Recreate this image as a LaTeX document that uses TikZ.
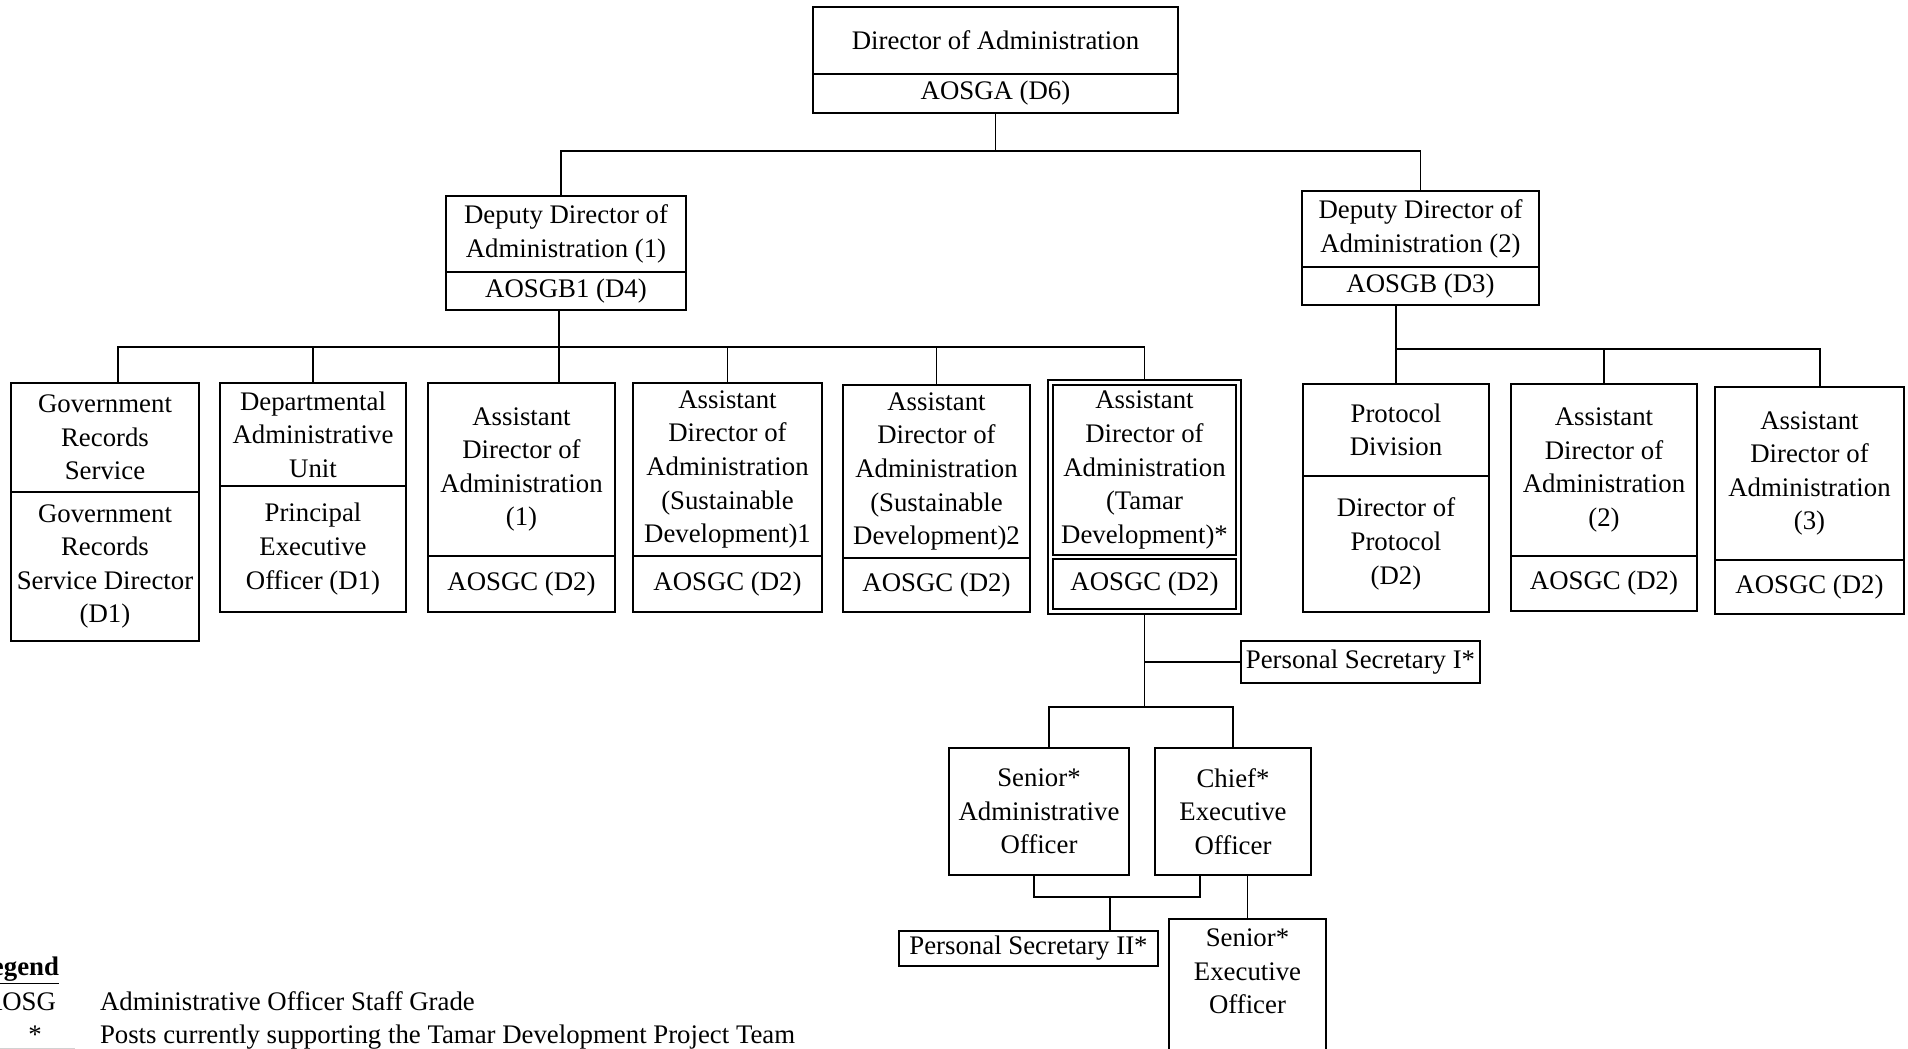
\documentclass[tikz,border=0pt]{standalone}
\usepackage{fontspec}
\setmainfont{Liberation Serif}
\usetikzlibrary{positioning,fit}

\tikzset{
	box/.style={draw, line width=0.7pt, inner sep=1pt, outer sep=0pt, align=center, font=\fontsize{13.4}{16.8}\selectfont},
	link/.style={line width=0.7pt},
	plain/.style={inner sep=0pt, outer sep=0pt, font=\fontsize{13.4}{16.8}\selectfont}
}

\begin{document}
\begin{tikzpicture}[x=0.5pt, y=-0.5pt]
		\useasboundingbox (0,0) rectangle (1908,1049);
		\clip (0,0) rectangle (1908,1049);

		\node[box, minimum width=182.5pt, minimum height=33.5pt] (dir) at (995.5,40.5) {Director of Administration};
		\node[box, minimum width=182.5pt, minimum height=19.5pt, below=0pt of dir] (dirg) {AOSGA (D6)};

		\node[box, minimum width=120pt, minimum height=38pt] (dd1) at (566,234) {Deputy Director of\\Administration (1)};
		\node[box, minimum width=120pt, minimum height=19pt, below=0pt of dd1] (dd1g) {AOSGB1 (D4)};
		\node[box, minimum width=118.5pt, minimum height=38pt] (dd2) at (1420.5,229) {Deputy Director of\\Administration (2)};
		\node[box, minimum width=118.5pt, minimum height=19pt, below=0pt of dd2] (dd2g) {AOSGB (D3)};

		\node[box, minimum width=94pt, minimum height=54.5pt] (grs) at (105,437.5) {Government\\Records\\Service};
		\node[box, minimum width=94pt, minimum height=74.5pt, below=0pt of grs] (grsg) {Government\\Records\\Service Director\\(D1)};
		\node[box, minimum width=93pt, minimum height=51.5pt] (dau) at (313,434.5) {Departmental\\Administrative\\Unit};
		\node[box, minimum width=93pt, minimum height=63pt, below=0pt of dau] (daug) {Principal\\Executive\\Officer (D1)};
		\node[box, minimum width=93.5pt, minimum height=86.5pt] (ada1) at (521.5,469.5) {Assistant\\Director of\\Administration\\(1)};
		\node[box, minimum width=93.5pt, minimum height=28pt, below=0pt of ada1] (ada1g) {AOSGC (D2)};
		\node[box, minimum width=94.5pt, minimum height=86.5pt] (ads1) at (727.5,469.5) {Assistant\\Director of\\Administration\\(Sustainable\\Development)1};
		\node[box, minimum width=94.5pt, minimum height=28pt, below=0pt of ads1] (ads1g) {AOSGC (D2)};
		\node[box, minimum width=93.5pt, minimum height=86.5pt] (ads2) at (936.5,471.5) {Assistant\\Director of\\Administration\\(Sustainable\\Development)2};
		\node[box, minimum width=93.5pt, minimum height=27pt, below=0pt of ads2] (ads2g) {AOSGC (D2)};
		\node[box, minimum width=91.5pt, minimum height=85pt] (adt) at (1144.5,470) {Assistant\\Director of\\Administration\\(Tamar\\Development)*};
		\node[box, minimum width=91.5pt, minimum height=25pt, below=2pt of adt] (adtg) {AOSGC (D2)};
		\node[draw, line width=0.7pt, inner sep=2.5pt, outer sep=0pt, fit=(adt)(adtg)] (adtbox) {};

		\node[box, minimum width=93pt, minimum height=46pt] (prot) at (1396,430) {Protocol\\Division};
		\node[box, minimum width=93pt, minimum height=68pt, below=0pt of prot] (protg) {Director of\\Protocol\\(D2)};
		\node[box, minimum width=93pt, minimum height=86pt] (ada2) at (1604,470) {Assistant\\Director of\\Administration\\(2)};
		\node[box, minimum width=93pt, minimum height=27.5pt, below=0pt of ada2] (ada2g) {AOSGC (D2)};
		\node[box, minimum width=94.5pt, minimum height=86.5pt] (ada3) at (1809.5,473.5) {Assistant\\Director of\\Administration\\(3)};
		\node[box, minimum width=94.5pt, minimum height=27pt, below=0pt of ada3] (ada3g) {AOSGC (D2)};

		\node[box, minimum width=119.5pt, minimum height=21pt] (ps1) at (1360.5,662) {Personal Secretary I*};
		\node[box, minimum width=90pt, minimum height=63.5pt] (sao) at (1039,811.5) {Senior*\\Administrative\\Officer};
		\node[box, minimum width=78pt, minimum height=63.5pt] (ceo) at (1233,811.5) {Chief*\\Executive\\Officer};
		\node[box, minimum width=129.5pt, minimum height=17.5pt] (ps2) at (1028.5,948.5) {Personal Secretary II*};
		\node[box, minimum width=78.5pt, minimum height=74pt] (seo) at (1247.5,993) {Senior*\\Executive\\Officer\\\strut};

		\coordinate (b1) at ([yshift=-19pt]dirg.south);
		\draw[link] (dirg.south) -- (b1);
		\draw[link] ([xshift=-2.5pt]dd1.north) |- (b1) -| (dd2.north);

		\coordinate (b2) at ([yshift=-18.5pt]dd1g.south);
		\coordinate (dd1j) at ([xshift=-3.5pt]dd1g.south);
		\draw[link] (dd1j) -- (dd1j |- ada1.north);
		\draw[link] ([xshift=6.5pt]grs.north) |- (b2) -| (adtbox.north);
		\foreach \n in {dau,ads1,ads2}
			\draw[link] (b2 -| \n.north) -- (\n.north);

		\coordinate (b3) at ([yshift=-22pt]dd2g.south);
		\draw[link] (prot.north |- dd2g.south) -- (prot.north);
		\draw[link] (prot.north |- b3) -| ([xshift=5.25pt]ada3.north);
		\draw[link] (b3 -| ada2.north) -- (ada2.north);

		\coordinate (b4) at ([yshift=-46.5pt]adtbox.south);
		\draw[link] (adtbox.south) -- (b4);
		\draw[link] (adtbox.south |- ps1.west) -- (ps1.west);
		\draw[link] ([xshift=5pt]sao.north) |- (b4) -| (ceo.north);

		\coordinate (b5) at ([yshift=-11pt]sao.south);
		\coordinate (ceoj) at ([xshift=-16.5pt]ceo.south);
		\coordinate (ps2j) at ([xshift=40.75pt]ps2.north);
		\draw[link] ([xshift=-2.5pt]sao.south) |- (b5 -| ceoj) -- (ceoj);
		\draw[link] (ps2j) -- (ps2j |- b5);
		\draw[link] (seo.north) -- (seo.north |- ceo.south);

		\node[plain, anchor=base east] (leg) at (59,975) {\textbf{\underline{Legend}}};
		\node[plain, anchor=base east] (aosg) at (56,1010) {AOSG};
		\node[plain, anchor=base west] (aosgtxt) at (100,1010) {Administrative Officer Staff Grade};
		\node[plain, anchor=base] (star) at (35,1043) {*};
		\node[plain, anchor=base west] (startxt) at (100,1043) {Posts currently supporting the Tamar Development Project Team};
		\draw[gray!35, line width=0.5pt] (0,1048) -- (75,1048);
\end{tikzpicture}
\end{document}
